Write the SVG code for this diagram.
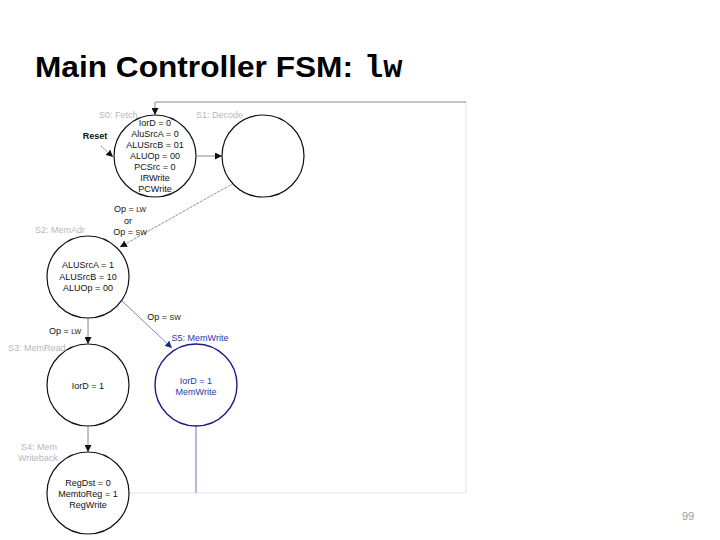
<svg xmlns="http://www.w3.org/2000/svg" width="720" height="540" viewBox="0 0 720 540">
<style>
.t{font-family:"Liberation Sans",Arial,sans-serif;font-size:9px;fill:#111;text-anchor:middle}
.g{font-family:"Liberation Sans",Arial,sans-serif;font-size:9px;fill:#b8b8b8;text-anchor:start}
.b{fill:#2a36a8}
.st{fill:#fff;stroke:#111;stroke-width:1.2}
.c{fill:none;stroke:#888;stroke-width:1}
</style>
<defs>
<marker id="ah" viewBox="0 0 10 10" refX="10" refY="5" markerWidth="7" markerHeight="7" orient="auto" markerUnits="userSpaceOnUse"><path d="M0,0L10,5L0,10z" fill="#111"/></marker>
<marker id="ahb" viewBox="0 0 10 10" refX="10" refY="5" markerWidth="7" markerHeight="7" orient="auto" markerUnits="userSpaceOnUse"><path d="M0,0L10,5L0,10z" fill="#1a2a9c"/></marker>
</defs>
<rect width="720" height="540" fill="#fff"/>
<text x="35" y="77" font-family="'Liberation Sans',Arial,sans-serif" font-weight="bold" font-size="30" fill="#000" textLength="318" lengthAdjust="spacingAndGlyphs">Main Controller FSM:</text>
<text x="364" y="77" font-family="'Liberation Mono','Courier New',monospace" font-weight="bold" font-size="32" fill="#000">lw</text>
<g id="connectors">
<path d="M466,102V493" stroke="#e2e2e2" stroke-width="1" fill="none"/>
<path d="M129,493H466" stroke="#e2e2e2" stroke-width="1" fill="none"/>
<path d="M196,426V493" stroke="#a3a7d6" stroke-width="1.6" fill="none"/>
<path d="M466,102H155V115" class="c" marker-end="url(#ah)"/>
<path d="M197,156H222" class="c" marker-end="url(#ah)"/>
<path d="M101,146L113,157" stroke="#555" stroke-width="0.8" stroke-dasharray="2,1" fill="none" marker-end="url(#ah)"/>
<path d="M234,183L120,247" stroke="#777" stroke-width="0.8" stroke-dasharray="3,1" fill="none" marker-end="url(#ah)"/>
<path d="M88,318V344" class="c" marker-end="url(#ah)"/>
<path d="M88,426V452" class="c" marker-end="url(#ah)"/>
<path d="M122,301L172,348" stroke="#5a64b8" stroke-width="0.8" fill="none" marker-end="url(#ahb)"/>
<text class="t" x="95" y="139" font-weight="bold">Reset</text>
<text class="t" x="130" y="212">Op = <tspan font-size="7">LW</tspan></text>
<text class="t" x="128" y="224">or</text>
<text class="t" x="130" y="235">Op = <tspan font-size="7">SW</tspan></text>
<text class="t" x="65" y="334">Op = <tspan font-size="7">LW</tspan></text>
<text class="t" x="164" y="320">Op = <tspan font-size="7">SW</tspan></text>
</g>
<g id="s0">
<circle class="st" cx="155" cy="156" r="41"/>
<text class="g" x="99" y="118">S0: Fetch</text>
<text class="t" x="155" y="126">IorD = 0</text>
<text class="t" x="155" y="137">AluSrcA = 0</text>
<text class="t" x="155" y="148">ALUSrcB = 01</text>
<text class="t" x="155" y="159">ALUOp = 00</text>
<text class="t" x="155" y="170">PCSrc = 0</text>
<text class="t" x="155" y="181">IRWrite</text>
<text class="t" x="155" y="192">PCWrite</text>
</g>
<g id="s1">
<circle class="st" cx="263" cy="156" r="41"/>
<text class="g" x="196" y="118">S1: Decode</text>
</g>
<g id="s2">
<circle class="st" cx="88" cy="277" r="41"/>
<text class="g" x="35" y="233">S2: MemAdr</text>
<text class="t" x="88" y="268">ALUSrcA = 1</text>
<text class="t" x="88" y="280">ALUSrcB = 10</text>
<text class="t" x="88" y="291">ALUOp = 00</text>
</g>
<g id="s3">
<circle class="st" cx="88" cy="385" r="41"/>
<text class="g" x="8" y="351">S3: MemRead</text>
<text class="t" x="88" y="389">IorD = 1</text>
</g>
<g id="s4">
<circle class="st" cx="88" cy="493" r="41"/>
<text class="g" x="21" y="450">S4: Mem</text>
<text class="g" x="18" y="461">Writeback</text>
<text class="t" x="88" y="486">RegDst = 0</text>
<text class="t" x="88" y="497">MemtoReg = 1</text>
<text class="t" x="88" y="508">RegWrite</text>
</g>
<g id="s5">
<circle cx="196" cy="385" r="41" fill="#fff" stroke="#1a1a8a" stroke-width="1.4"/>
<text class="t b" x="200" y="341">S5: MemWrite</text>
<text class="t b" x="196" y="384">IorD = 1</text>
<text class="t b" x="196" y="395">MemWrite</text>
</g>
<text x="688" y="520" font-family="'Liberation Sans',Arial,sans-serif" font-size="11" fill="#999" text-anchor="middle">99</text>
</svg>
